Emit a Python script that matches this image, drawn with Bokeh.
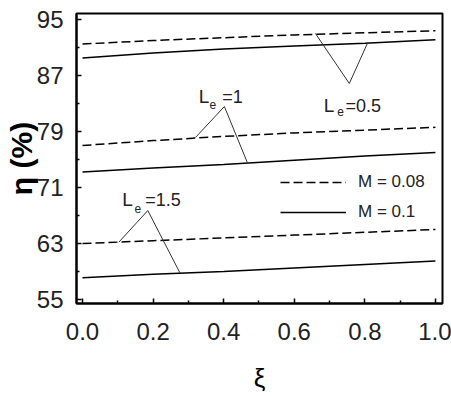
from bokeh.plotting import figure
from bokeh.models import (Range1d, FixedTicker, Label, Legend, LegendItem,
                          NumeralTickFormatter)
from bokeh.embed import file_html
from bokeh.resources import INLINE

# ---- data ----
xi = [0.0, 0.2, 0.4, 0.6, 0.8, 1.0]
# efficiency eta (%) for Le = 0.5, 1, 1.5 ; M = 0.08 (dashed) and M = 0.1 (solid)
eta_le05_m008 = [91.5, 92.0, 92.4, 92.8, 93.1, 93.4]
eta_le05_m01 = [89.5, 90.2, 90.8, 91.2, 91.6, 92.1]
eta_le1_m008 = [77.0, 77.7, 78.3, 78.8, 79.2, 79.6]
eta_le1_m01 = [73.2, 73.8, 74.3, 74.9, 75.5, 76.0]
eta_le15_m008 = [63.0, 63.4, 63.8, 64.2, 64.6, 65.0]
eta_le15_m01 = [58.1, 58.6, 59.0, 59.5, 60.0, 60.5]

y_ticks = [55, 63, 71, 79, 87, 95]
y_minor = [59, 67, 75, 83, 91]
x_ticks = [0.0, 0.2, 0.4, 0.6, 0.8, 1.0]
x_minor = [0.1, 0.3, 0.5, 0.7, 0.9]

# pointer polylines (annotation callouts)
ptr_le05_x = [0.66, 0.756, 0.807]
ptr_le05_y = [93.0, 85.86, 91.57]
ptr_le1_x = [0.32, 0.402, 0.467]
ptr_le1_y = [78.14, 82.57, 74.57]
ptr_le15_x = [0.103, 0.185, 0.276]
ptr_le15_y = [63.19, 67.71, 58.81]

# label anchors: (x of "L", baseline of "L", x of "e", baseline of "e", x of "=..", text)
le_labels = [
    (0.6836, 82.71, 0.7215, 81.9, 0.745, "=0.5"),
    (0.3295, 84.0, 0.360, 82.85, 0.3958, "=1"),
    (0.1125, 69.24, 0.147, 67.95, 0.178, "=1.5"),
]

FONT = "Liberation Sans"
TXT = "#222222"

p = figure(width=451, height=396, output_backend="svg", toolbar_location=None,
           x_range=Range1d(-0.017, 1.02), y_range=Range1d(54.43, 95.86),
           min_border_left=76, min_border_right=9, min_border_top=13,
           min_border_bottom=93)
p.background_fill_color = "white"
p.border_fill_color = "white"
p.grid.visible = False
p.outline_line_color = "black"
p.outline_line_width = 2

dash = "9 4"
lw = 1.5
r_d1 = p.line(xi, eta_le05_m008, line_color="black", line_width=lw, line_dash=dash)
r_s1 = p.line(xi, eta_le05_m01, line_color="black", line_width=lw)
p.line(xi, eta_le1_m008, line_color="black", line_width=lw, line_dash=dash)
p.line(xi, eta_le1_m01, line_color="black", line_width=lw)
p.line(xi, eta_le15_m008, line_color="black", line_width=lw, line_dash=dash)
p.line(xi, eta_le15_m01, line_color="black", line_width=lw)

for px, py in [(ptr_le05_x, ptr_le05_y), (ptr_le1_x, ptr_le1_y), (ptr_le15_x, ptr_le15_y)]:
    p.line(px, py, line_color="#333333", line_width=1)

for lx, ly, ex, ey, tx, t in le_labels:
    p.add_layout(Label(x=lx, y=ly, text="L", text_font=FONT, text_font_size="19px",
                       text_color=TXT, text_baseline="alphabetic"))
    p.add_layout(Label(x=ex, y=ey, text="e", text_font=FONT, text_font_size="12px",
                       text_color=TXT, text_baseline="alphabetic"))
    p.add_layout(Label(x=tx, y=ly, text=t, text_font=FONT, text_font_size="18px",
                       text_color=TXT, text_baseline="alphabetic"))

legend = Legend(items=[LegendItem(label="M = 0.08", renderers=[r_d1]),
                       LegendItem(label="M = 0.1", renderers=[r_s1])],
                location=(204, 81), orientation="vertical",
                glyph_width=66, glyph_height=20, label_height=20, spacing=10,
                label_standoff=12, padding=0, margin=0,
                border_line_color=None, background_fill_alpha=0,
                label_text_font=FONT, label_text_font_size="17px",
                label_text_color=TXT)
p.add_layout(legend)

# axes
p.xaxis.ticker = FixedTicker(ticks=x_ticks, minor_ticks=x_minor)
p.yaxis.ticker = FixedTicker(ticks=y_ticks, minor_ticks=y_minor)
p.xaxis.formatter = NumeralTickFormatter(format="0.0")
for ax in (p.xaxis, p.yaxis):
    ax.axis_line_width = 2
    ax.axis_line_color = "black"
    ax.major_tick_in = 5
    ax.major_tick_out = 0
    ax.minor_tick_in = 3
    ax.minor_tick_out = 0
    ax.major_tick_line_width = 1.5
    ax.minor_tick_line_width = 1.5
    ax.major_label_text_font = FONT
    ax.major_label_text_font_size = "24px"
    ax.major_label_text_color = TXT
    ax.axis_label_text_font = FONT
    ax.axis_label_text_color = "black"

p.xaxis.major_label_standoff = 19
p.yaxis.major_label_standoff = 13
p.xaxis.axis_label = "ξ"
p.xaxis.axis_label_text_font_size = "26px"
p.xaxis.axis_label_text_font_style = "normal"
p.xaxis.axis_label_standoff = 20
p.yaxis.axis_label = "η (%)"
p.yaxis.axis_label_text_font_size = "30px"
p.yaxis.axis_label_text_font_style = "bold"
p.yaxis.axis_label_text_line_height = 0.8
p.yaxis.axis_label_standoff = -4

open("out.html", "w").write(file_html(p, INLINE))
